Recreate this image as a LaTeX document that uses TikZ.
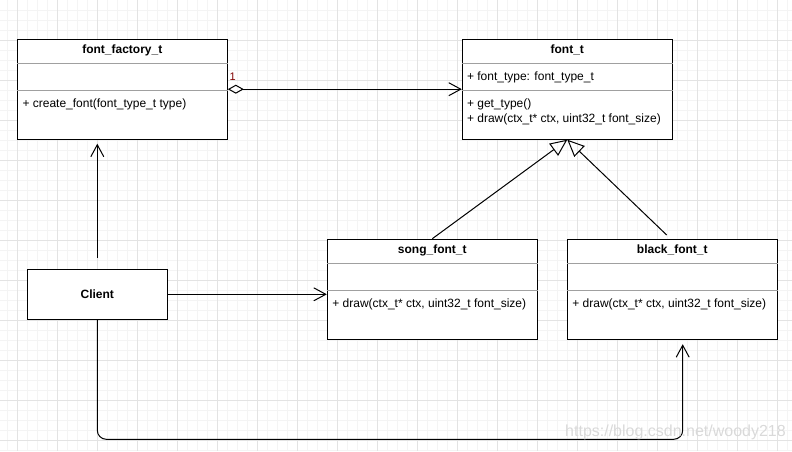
\documentclass[tikz,border=0pt]{standalone}
\usepackage{fontspec}
\setmainfont{Liberation Sans}
\usetikzlibrary{arrows.meta}
\definecolor{minorgrid}{HTML}{F4F4F4}
\definecolor{majorgrid}{HTML}{E3E3E3}
\definecolor{sepgray}{HTML}{A0A0A0}
\definecolor{mult}{HTML}{800000}
\begin{document}
\begin{tikzpicture}[x=1pt,y=-1pt,
  font=\fontsize{12}{14}\selectfont,
  classbox/.style={draw, line width=1pt, minimum width=210pt, minimum height=100pt, inner sep=0pt, fill=white},
  clientbox/.style={draw, line width=1pt, minimum width=140pt, minimum height=50pt, inner sep=0pt, fill=white, font=\fontsize{12}{14}\selectfont\bfseries},
  sepline/.style={draw=sepgray, line width=0.8pt},
  titletext/.style={font=\fontsize{12}{14}\selectfont\bfseries, inner sep=0pt},
  member/.style={anchor=west, inner sep=0pt},
  conn/.style={line width=1pt},
  openarrow/.style={-{Straight Barb[length=12pt,width=13pt]}},
  genarrow/.style={-{Triangle[open,length=17pt,width=15pt]}},
  aggarrow/.style={{Diamond[open,length=16pt,width=9pt]}-{Straight Barb[length=12pt,width=13pt]}},
]
\useasboundingbox (0,0) rectangle (792,451);
% grid
\foreach \x in {7,17,...,787} \draw[minorgrid, line width=0.8pt] (\x,0) -- (\x,451);
\foreach \y in {10,20,...,450} \draw[minorgrid, line width=0.8pt] (0,\y) -- (792,\y);
\foreach \x in {17,57,...,777} \draw[majorgrid, line width=0.8pt] (\x,0) -- (\x,451);
\foreach \y in {40,80,...,440} \draw[majorgrid, line width=0.8pt] (0,\y) -- (792,\y);

% class boxes
\node[classbox] (ff) at (122.3,89.2) {};
\node[classbox] (ft) at (567.3,89.2) {};
\node[classbox] (song) at (432.3,289.2) {};
\node[classbox] (black) at (672.3,289.2) {};
\node[clientbox] (client) at (97.3,294.3) {Client};

% separators
\foreach \b in {ff,ft,song,black}{
  \draw[sepline] ([yshift=-25pt]\b.north west) -- ([yshift=-25pt]\b.north east);
  \draw[sepline] ([yshift=-52pt]\b.north west) -- ([yshift=-52pt]\b.north east);
}

% titles
\node[titletext] (fft) at ([yshift=-11.5pt]ff.north) {font\_factory\_t};
\node[titletext] (ftt) at ([yshift=-11.5pt]ft.north) {font\_t};
\node[titletext] (songt) at ([yshift=-11.5pt]song.north) {song\_font\_t};
\node[titletext] (blackt) at ([yshift=-11.5pt]black.north) {black\_font\_t};

% members
\node[member] (ffm1) at ([xshift=5.5pt,yshift=-65.5pt]ff.north west) {+ create\_font(font\_type\_t type)};
\node[member] (fta1) at ([xshift=5pt,yshift=-38.5pt]ft.north west) {+ font\_type: font\_type\_t};
\node[member] (ftm1) at ([xshift=5pt,yshift=-65.5pt]ft.north west) {+ get\_type()};
\node[member] (ftm2) at ([xshift=5pt,yshift=-80.2pt]ft.north west) {+ draw(ctx\_t* ctx, uint32\_t font\_size)};
\node[member] (songm1) at ([xshift=5.4pt,yshift=-65.5pt]song.north west) {+ draw(ctx\_t* ctx, uint32\_t font\_size)};
\node[member] (blackm1) at ([xshift=5.4pt,yshift=-65.5pt]black.north west) {+ draw(ctx\_t* ctx, uint32\_t font\_size)};

% aggregation
\draw[conn, aggarrow] (ff.east) -- (ft.west);
\node[font=\fontsize{11}{13}\selectfont, text=mult, anchor=base west, inner sep=0pt] (mult1) at (229.5,80.5) {1};

% generalizations
\coordinate (bgs) at (666.7,235);
\draw[conn, genarrow] (song.north) -- (ft.south);
\draw[conn, genarrow] (bgs) -- (ft.south);

% client associations
\draw[conn, openarrow, shorten <=11pt, shorten >=4pt] (client.north) -- (client.north |- ff.south);
\draw[conn, openarrow] (client.east) -- (client.east -| song.west);
\coordinate (bend) at (97.3,439.3);
\coordinate (bk) at (682.7,339.2);
\draw[conn, openarrow, rounded corners=9pt, shorten >=5pt] (client.south) -- (bend) -| (bk);

% watermark
\node[text=gray!30, font=\fontsize{16}{18}\selectfont, anchor=base west, inner sep=0pt] (wm) at (565,436.5) {https://blog.csdn.net/woody218};
\end{tikzpicture}
\end{document}
